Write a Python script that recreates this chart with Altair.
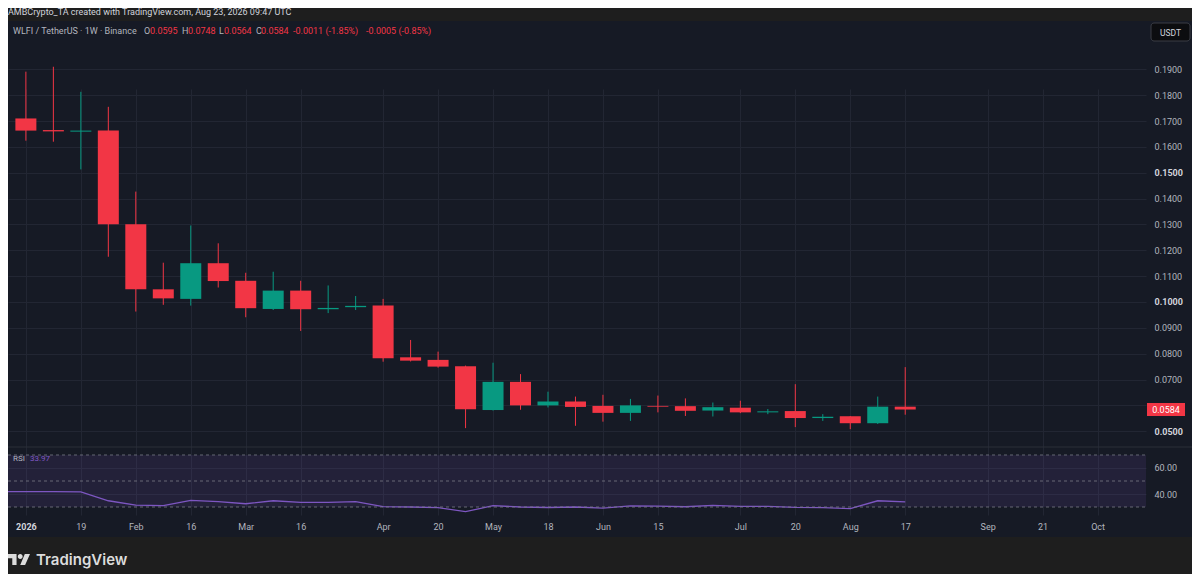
import altair as alt
import pandas as pd

# ---------------- data ----------------
dates = ["2026-01-05", "2026-01-12", "2026-01-19", "2026-01-26", "2026-02-02", "2026-02-09",
         "2026-02-16", "2026-02-23", "2026-03-02", "2026-03-09", "2026-03-16", "2026-03-23",
         "2026-03-30", "2026-04-06", "2026-04-13", "2026-04-20", "2026-04-27", "2026-05-04",
         "2026-05-11", "2026-05-18", "2026-05-25", "2026-06-01", "2026-06-08", "2026-06-15",
         "2026-06-22", "2026-06-29", "2026-07-06", "2026-07-13", "2026-07-20", "2026-07-27",
         "2026-08-03", "2026-08-10", "2026-08-17"]
opens = [0.1710, 0.1665, 0.1659, 0.1663, 0.1301, 0.1049, 0.1012, 0.1150, 0.1082, 0.0973,
         0.1044, 0.0972, 0.0980, 0.0986, 0.0786, 0.0776, 0.0751, 0.0582, 0.0691, 0.0600,
         0.0615, 0.0598, 0.0571, 0.0598, 0.0597, 0.0580, 0.0591, 0.0573, 0.0578, 0.0551,
         0.0558, 0.0531, 0.0595]
highs = [0.1891, 0.1910, 0.1813, 0.1755, 0.1427, 0.1152, 0.1296, 0.1227, 0.1113, 0.1117,
         0.1082, 0.1064, 0.1023, 0.1012, 0.0853, 0.0808, 0.0754, 0.0765, 0.0721, 0.0653,
         0.0634, 0.0641, 0.0625, 0.0638, 0.0627, 0.0611, 0.0618, 0.0586, 0.0682, 0.0566,
         0.0559, 0.0634, 0.0748]
lows = [0.1624, 0.1620, 0.1513, 0.1175, 0.0963, 0.0989, 0.0986, 0.1056, 0.0941, 0.0969,
        0.0888, 0.0957, 0.0969, 0.0769, 0.0770, 0.0746, 0.0512, 0.0580, 0.0583, 0.0592,
        0.0521, 0.0537, 0.0540, 0.0573, 0.0559, 0.0557, 0.0570, 0.0566, 0.0516, 0.0540,
        0.0508, 0.0528, 0.0564]
closes = [0.1663, 0.1660, 0.1663, 0.1301, 0.1049, 0.1014, 0.1150, 0.1081, 0.0976, 0.1044,
          0.0972, 0.0977, 0.0985, 0.0782, 0.0773, 0.0750, 0.0585, 0.0691, 0.0600, 0.0615,
          0.0594, 0.0571, 0.0600, 0.0595, 0.0579, 0.0593, 0.0573, 0.0577, 0.0551, 0.0556,
          0.0531, 0.0595, 0.0584]

rsi_dates = ["2025-12-29"] + dates
rsi_values = [41.8, 41.8, 41.8, 41.6, 34.8, 31.5, 31.0, 35.1, 34.1, 32.5, 34.8, 33.6, 33.6,
              34.1, 30.3, 30.0, 29.5, 26.4, 31.0, 30.0, 29.6, 30.0, 29.2, 30.8, 30.6, 30.2,
              31.3, 30.5, 30.5, 29.7, 29.5, 28.7, 34.8, 33.97]
rsi_levels = [70, 50, 30]
rsi_ticks = [60, 40]

tick_dates = ["2026-01-05", "2026-01-19", "2026-02-02", "2026-02-16", "2026-03-02", "2026-03-16",
              "2026-04-06", "2026-04-20", "2026-05-04", "2026-05-18", "2026-06-01", "2026-06-15",
              "2026-07-06", "2026-07-20", "2026-08-03", "2026-08-17", "2026-09-07", "2026-09-21",
              "2026-10-05"]
tick_labels = ["2026", "19", "Feb", "16", "Mar", "16", "Apr", "20", "May", "18", "Jun", "15",
               "Jul", "20", "Aug", "17", "Sep", "21", "Oct"]
price_ticks = [0.19, 0.18, 0.17, 0.16, 0.15, 0.14, 0.13, 0.12, 0.11, 0.10, 0.09, 0.08, 0.07,
               0.06, 0.05]
bold_prices = [0.15, 0.1, 0.05]

# ---------------- tables ----------------
origin = pd.Timestamp(dates[0])


def week_of(d):
    return int((pd.Timestamp(d) - origin).days // 7)


candles = pd.DataFrame({"date": dates, "open": opens, "high": highs, "low": lows, "close": closes})
candles["week"] = [week_of(d) for d in dates]
candles["dir"] = ["up" if c >= o else "down" for o, c in zip(opens, closes)]

rsi_df = pd.DataFrame({"week": [week_of(d) for d in rsi_dates], "rsi": rsi_values})
tick_weeks = [week_of(d) for d in tick_dates]

# ---------------- styles ----------------
FONT = "Roboto"
OUTER = "#1e1e1e"
FRAME = "#161a25"
GRID = "#222633"
RED = "#f23645"
GREEN = "#089981"
PURPLE = "#7e57c2"
TXT = "#b2b5be"
TXT_HI = "#d1d4dc"

W, H = 1138, 494
MAIN_H = 426

x_scale = alt.Scale(domain=[-0.469, 40.58], nice=False, zero=False)
main_y = alt.Scale(domain=[0.0439, 0.2087], range=[MAIN_H, 0], nice=False, zero=False)
rsi_y = alt.Scale(domain=[23.85, 76.15], range=[H, MAIN_H], nice=False, zero=False)
color_scale = alt.Scale(domain=["up", "down"], range=[GREEN, RED])

label_list = "[" + ",".join("'%s'" % t for t in tick_labels) + "]"
week_list = "[" + ",".join(str(w) for w in tick_weeks) + "]"
x_axis = alt.Axis(values=tick_weeks, labelExpr=f"{label_list}[indexof({week_list}, datum.value)]",
                  grid=True, gridColor=GRID, domain=False, ticks=False, labelPadding=7,
                  labelFontSize=9, labelFlush=False, labelOverlap=False, title=None,
                  labelFontWeight={"condition": {"test": "datum.value == 0", "value": "bold"},
                                   "value": "normal"},
                  labelColor={"condition": {"test": "datum.value == 0", "value": TXT_HI},
                              "value": TXT})

bold_list = "[" + ",".join(str(b) for b in bold_prices) + "]"
bold_test = f"indexof({bold_list}, datum.value) >= 0"
main_axis = alt.Axis(orient="right", values=price_ticks, format=".4f", grid=True, gridColor=GRID,
                     domain=False, ticks=False, labelPadding=8, labelFontSize=9, title=None,
                     labelExpr=f"abs(datum.value - {closes[-1]}) < 0.003 ? '' : datum.label",
                     labelFontWeight={"condition": {"test": bold_test, "value": "bold"},
                                      "value": "normal"},
                     labelColor={"condition": {"test": bold_test, "value": TXT_HI}, "value": TXT})
rsi_axis = alt.Axis(orient="right", values=rsi_ticks, format=".2f", grid=True, gridColor=GRID,
                    domain=False, ticks=False, labelPadding=8, labelFontSize=9, title=None,
                    labelColor=TXT)

# ---------------- main pane ----------------
base = alt.Chart(candles)
wicks = base.mark_rule(strokeWidth=1).encode(
    x=alt.X("week:Q", scale=x_scale, axis=x_axis),
    y=alt.Y("low:Q", scale=main_y, axis=main_axis),
    y2="high:Q",
    color=alt.Color("dir:N", scale=color_scale, legend=None),
)
bodies = base.mark_bar(size=21).encode(
    x=alt.X("week:Q", scale=x_scale, axis=x_axis),
    y=alt.Y("open:Q", scale=main_y, axis=None),
    y2="close:Q",
    color=alt.Color("dir:N", scale=color_scale, legend=None),
)
last = pd.DataFrame({"price": [closes[-1]], "label": ["%.4f" % closes[-1]]})
tag = alt.Chart(last).mark_tick(orient="horizontal", size=38, thickness=13, color=RED, opacity=1).encode(
    x=alt.value(1158), y=alt.Y("price:Q", scale=main_y, axis=None))
tag_text = alt.Chart(last).mark_text(color="#ffffff", fontSize=9, font=FONT).encode(
    x=alt.value(1158), y=alt.Y("price:Q", scale=main_y, axis=None), text="label:N")

# ---------------- RSI pane ----------------
band_df = pd.DataFrame({"top": [rsi_levels[0]], "bottom": [rsi_levels[-1]]})
band = alt.Chart(band_df).mark_rect(color=PURPLE, opacity=0.13).encode(
    x=alt.value(0), x2=alt.value(W),
    y=alt.Y("top:Q", scale=rsi_y, axis=rsi_axis), y2="bottom:Q")
levels = alt.Chart(pd.DataFrame({"level": rsi_levels})).mark_rule(
    color="#787b86", strokeDash=[3, 3], opacity=0.8, strokeWidth=1).encode(
    x=alt.value(0), x2=alt.value(W), y=alt.Y("level:Q", scale=rsi_y, axis=None))
rsi_line = alt.Chart(rsi_df).mark_line(color=PURPLE, strokeWidth=1.3, clip=True).encode(
    x=alt.X("week:Q", scale=x_scale, axis=x_axis),
    y=alt.Y("rsi:Q", scale=rsi_y, axis=None))

# ---------------- decorations ----------------
one = pd.DataFrame({"k": [0]})


def box(x1, x2, y1, y2, fill, **kw):
    return alt.Chart(one).mark_rect(fill=fill, **kw).encode(
        x=alt.value(x1), x2=alt.value(x2), y=alt.value(y1), y2=alt.value(y2))


def label(text, x, y, color, size=9, weight="normal", align="left", font=FONT):
    return alt.Chart(one).mark_text(text=text, color=color, fontSize=size, fontWeight=weight,
                                    align=align, baseline="middle", font=font).encode(
        x=alt.value(x), y=alt.value(y))


deco = [
    box(-8, 1192, -13, 0, OUTER),
    box(-8, 1192, 516, 553, OUTER),
    alt.Chart(one).mark_rule(color="#2a2e39", strokeWidth=1).encode(
        x=alt.value(0), x2=alt.value(1184), y=alt.value(MAIN_H)),
    box(1143, 1182, 2, 20, "#0c0d10", stroke="#3a3d45", strokeWidth=1, cornerRadius=3),
    label("USDT", 1162.5, 11.5, TXT_HI, size=8.5, align="center"),
    label("AMBCrypto_TA created with TradingView.com, Aug 23, 2026 09:47 UTC", 0, -9.5, TXT_HI, size=9),
    label("WLFI / TetherUS · 1W · Binance", 5, 10, TXT, size=9),
    label("O", 136, 10, TXT), label("%.4f" % opens[-1], 142, 10, RED),
    label("H", 174, 10, TXT), label("%.4f" % highs[-1], 180, 10, RED),
    label("L", 211, 10, TXT), label("%.4f" % lows[-1], 216, 10, RED),
    label("C", 248, 10, TXT), label("%.4f" % closes[-1], 253, 10, RED),
    label("-0.0011 (-1.85%)", 285, 10, RED),
    label("-0.0005 (-0.85%)", 358, 10, RED),
    label("RSI", 5, 438, TXT, size=8),
    label("%.2f" % rsi_values[-1], 22, 438, PURPLE, size=8),
    alt.Chart(one).mark_point(
        shape=("M-1,-0.5 L-0.222,-0.5 L-0.222,0.5 L-0.611,0.5 L-0.611,-0.111 L-1,-0.111 Z "
               "M0.333,-0.278 A0.222,0.222 0 1,1 -0.111,-0.278 A0.222,0.222 0 1,1 0.333,-0.278 Z "
               "M0.528,-0.5 L1,-0.5 L0.556,0.5 L0.111,0.5 Z"),
        size=484, filled=True, color="#dcdcdc", opacity=1, strokeWidth=0).encode(
        x=alt.value(11), y=alt.value(538.5)),
    label("TradingView", 28, 538.5, "#dcdcdc", size=15, weight=600, font="Inter"),
]

chart = alt.layer(
    wicks, bodies, rsi_line, band, levels, tag, tag_text, *deco
).resolve_scale(y="independent").properties(
    width=W, height=H,
    padding={"left": 0, "top": 13, "right": 46, "bottom": 59},
    autosize=alt.AutoSizeParams(type="none"),
    background=FRAME,
).configure_view(stroke=None).configure_axis(labelFont=FONT)

chart.save("out.html", embed_options={"renderer": "svg", "actions": False})
